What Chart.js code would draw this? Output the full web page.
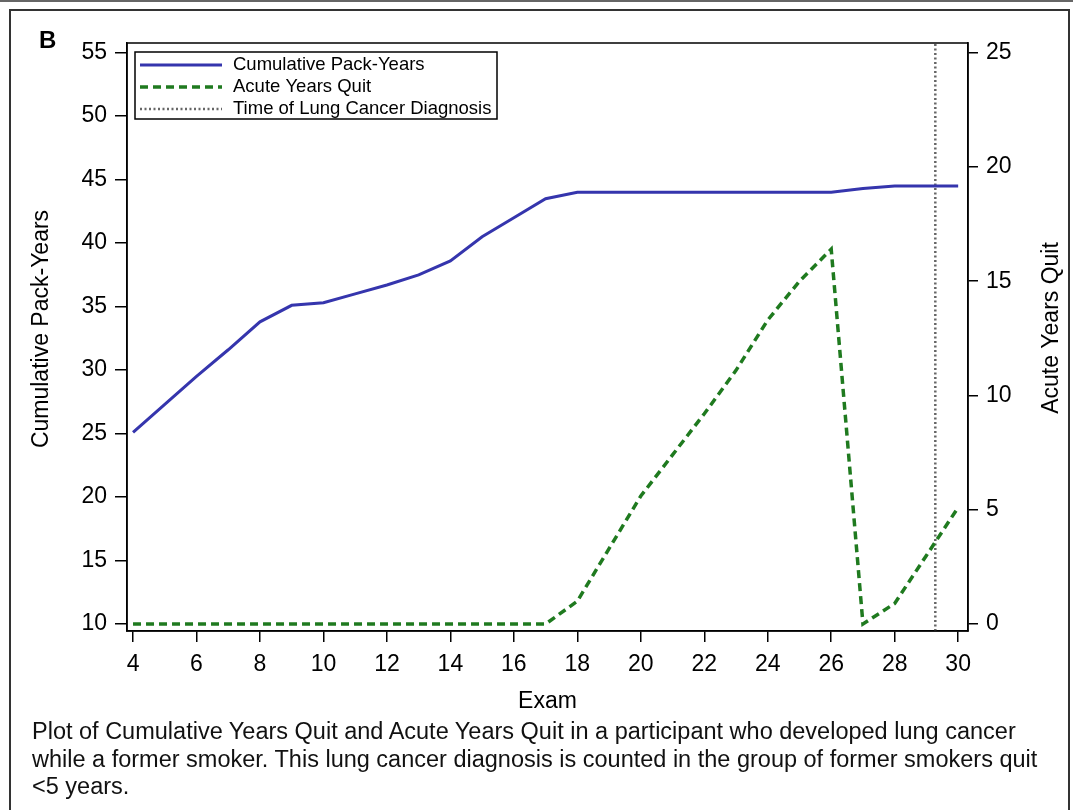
<!DOCTYPE html>
<html>
<head>
<meta charset="utf-8">
<script src="https://cdn.jsdelivr.net/npm/chart.js@4.4.0/dist/chart.umd.min.js"></script>
<style>
  html, body { margin: 0; padding: 0; background: #fff; }
  body { width: 1073px; height: 810px; position: relative; overflow: hidden;
         font-family: "Liberation Sans", Arial, sans-serif; color: #000; }
  #topline { position: absolute; left: 0; top: 0; width: 1073px; border-top: 2px solid #666; }
  #frame { position: absolute; left: 9px; top: 9px; width: 1061px; height: 830px;
           border: 2px solid #333; box-sizing: border-box; }
  #panel { position: absolute; left: 39px; top: 26px; font-weight: bold; font-size: 24px; }
  #caption { position: absolute; left: 32px; top: 718px; font-size: 23.5px; line-height: 27.5px;
             color: #111; white-space: nowrap; }
  canvas { position: absolute; left: 0; top: 0; }
</style>
</head>
<body>
<div id="topline"></div>
<div id="frame"></div>
<canvas id="chart" width="1073" height="810"></canvas>
<div id="panel">B</div>
<div id="caption">Plot of Cumulative Years Quit and Acute Years Quit in a participant who developed lung cancer<br>while a former smoker. This lung cancer diagnosis is counted in the group of former smokers quit<br>&lt;5 years.</div>
<script>
// values
const exams = [4, 5, 6, 7, 8, 9, 10, 11, 12, 13, 14, 15, 16, 17, 18, 19, 20, 21, 22, 23, 24, 25, 26, 27, 28, 29, 30];
const packYears = [25.1, 27.3, 29.5, 31.6, 33.8, 35.1, 35.3, 36.0, 36.7, 37.5, 38.6, 40.5, 42.0, 43.5, 44.0,
                   44.0, 44.0, 44.0, 44.0, 44.0, 44.0, 44.0, 44.0, 44.3, 44.5, 44.5, 44.5];
const acuteYearsQuit = [0, 0, 0, 0, 0, 0, 0, 0, 0, 0, 0, 0, 0, 0, 1.0,
                        3.3, 5.6, 7.4, 9.2, 11.1, 13.3, 15.0, 16.4, 0, 0.9, 3.0, 5.1];
const diagnosisExam = 29.28;

const xTicks = [4, 6, 8, 10, 12, 14, 16, 18, 20, 22, 24, 26, 28, 30];
const leftTicks = [10, 15, 20, 25, 30, 35, 40, 45, 50, 55];
const rightTicks = [0, 5, 10, 15, 20, 25];

// axis limits (right axis is the left one rescaled 10..55 -> 0..25)
const xMin = 3.81, xMax = 30.31;
const leftMin = 9.45, leftMax = 55.76;
const rightMin = (leftMin - 10) * 25 / 45, rightMax = (leftMax - 10) * 25 / 45;

const FONT = '"Liberation Sans", Arial, sans-serif';
Chart.defaults.font.family = FONT;
Chart.defaults.color = '#000';

const toPoints = (xs, ys) => xs.map((x, i) => ({x: x, y: ys[i]}));

function verticalTitle(ctx, text, x, y) {
  ctx.save();
  ctx.font = '23px ' + FONT;
  ctx.fillStyle = '#000';
  ctx.textAlign = 'center';
  ctx.textBaseline = 'middle';
  ctx.translate(x, y);
  ctx.rotate(-Math.PI / 2);
  ctx.fillText(text, 0, 0);
  ctx.restore();
}

// box round the plot, legend inside, both y titles
const decorations = {
  id: 'decorations',
  afterDraw(chart) {
    const ctx = chart.ctx;
    const a = chart.chartArea;
    ctx.save();
    ctx.strokeStyle = '#000';
    ctx.lineWidth = 1.5;
    ctx.setLineDash([]);
    ctx.strokeRect(a.left, a.top, a.right - a.left, a.bottom - a.top);

    // legend
    const lx = a.left + 8, ly = a.top + 9;
    ctx.strokeRect(lx, ly, 362, 67);
    ctx.font = '18.5px ' + FONT;
    ctx.textBaseline = 'middle';
    ctx.fillStyle = '#000';
    chart.data.datasets.forEach((ds, i) => {
      const y = ly + 13 + i * 22;
      ctx.beginPath();
      ctx.strokeStyle = ds.borderColor;
      ctx.lineWidth = ds.borderWidth;
      ctx.setLineDash(ds.borderDash || []);
      ctx.moveTo(lx + 5, y);
      ctx.lineTo(lx + 87, y);
      ctx.stroke();
      ctx.fillText(ds.label, lx + 98, y);
    });
    ctx.restore();

    verticalTitle(ctx, 'Cumulative Pack-Years', 42, 329);
    verticalTitle(ctx, 'Acute Years Quit', 1052, 328);
  }
};

const axisLine = {color: '#000', width: 1.5};

new Chart(document.getElementById('chart'), {
  type: 'line',
  data: {
    datasets: [
      {
        label: 'Cumulative Pack-Years',
        data: toPoints(exams, packYears),
        yAxisID: 'y',
        borderColor: '#3535ad',
        borderWidth: 3,
        pointRadius: 0,
        tension: 0
      },
      {
        label: 'Acute Years Quit',
        data: toPoints(exams, acuteYearsQuit),
        yAxisID: 'y1',
        borderColor: '#1f7a1f',
        borderWidth: 3.5,
        borderDash: [8, 5],
        pointRadius: 0,
        tension: 0
      },
      {
        label: 'Time of Lung Cancer Diagnosis',
        data: [{x: diagnosisExam, y: leftMin}, {x: diagnosisExam, y: leftMax}],
        yAxisID: 'y',
        borderColor: '#666666',
        borderWidth: 2.5,
        borderDash: [2, 2.5],
        pointRadius: 0
      }
    ]
  },
  options: {
    responsive: false,
    animation: false,
    devicePixelRatio: 1,
    layout: {padding: {top: 43, left: 0, right: 0, bottom: 89}},
    plugins: {
      legend: {display: false},
      tooltip: {enabled: false}
    },
    scales: {
      x: {
        type: 'linear',
        position: 'bottom',
        min: xMin,
        max: xMax,
        afterBuildTicks: s => { s.ticks = xTicks.map(v => ({value: v})); },
        afterFit: s => { s.height = 90; },
        grid: {drawOnChartArea: false, tickLength: 11, color: '#000', lineWidth: 1.5},
        border: axisLine,
        ticks: {font: {size: 23}, padding: 9, maxRotation: 0, autoSkip: false},
        title: {display: true, text: 'Exam', font: {size: 23}, padding: {top: 0, bottom: 6}}
      },
      y: {
        type: 'linear',
        position: 'left',
        min: leftMin,
        max: leftMax,
        afterBuildTicks: s => { s.ticks = leftTicks.map(v => ({value: v})); },
        afterFit: s => { s.width = 127; },
        grid: {drawOnChartArea: false, tickLength: 12, color: '#000', lineWidth: 1.5},
        border: axisLine,
        ticks: {font: {size: 23}, padding: 8}
      },
      y1: {
        type: 'linear',
        position: 'right',
        min: rightMin,
        max: rightMax,
        afterBuildTicks: s => { s.ticks = rightTicks.map(v => ({value: v})); },
        afterFit: s => { s.width = 105; },
        grid: {drawOnChartArea: false, tickLength: 10, color: '#000', lineWidth: 1.5},
        border: axisLine,
        ticks: {font: {size: 23}, padding: 8}
      }
    }
  },
  plugins: [decorations]
});
</script>
</body>
</html>
